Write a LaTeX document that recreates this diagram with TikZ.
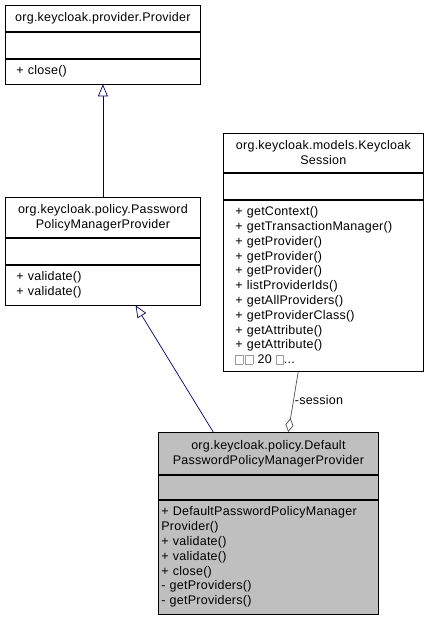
\documentclass[tikz,border=0pt]{standalone}
\usepackage{fontspec}
\setmainfont[LetterSpace=2]{Liberation Sans}
\usetikzlibrary{arrows.meta,calc}

\newcommand{\tofu}{{\setlength{\fboxsep}{0pt}\setlength{\fboxrule}{0.6pt}\color{gray!80}\framebox[8pt][c]{\rule{0pt}{8.5pt}}}}

\tikzset{
  umlpart/.style 2 args={draw=black, line width=0.8pt, rectangle, anchor=north west,
    inner xsep=5pt, inner ysep=0pt, minimum width=#1, minimum height=#2,
    text width=#1-10pt, font=\fontsize{12.5}{14.8}\selectfont},
  umltitle/.style={align=center},
  umlbody/.style 2 args={align=left, inner xsep=#2, text width=#1-2*#2},
  inherit/.style={draw=blue!40!black, line width=0.7pt,
    -{Triangle[open, width=10pt, length=12pt, fill=white]}},
  member/.style={draw=black!70, line width=0.7pt,
    {Diamond[open, width=8pt, length=14pt, fill=white]}-},
}

\begin{document}
\begin{tikzpicture}[x=1pt, y=-1pt]
  \useasboundingbox (0,0) rectangle (429,619);

  % org.keycloak.provider.Provider
  \node[umlpart={195pt}{26pt}, umltitle] (prov title) at (5,5) {org.keycloak.provider.Provider};
  \node[umlpart={195pt}{26pt}] (prov attr) at (prov title.south west) {};
  \node[umlpart={195pt}{25pt}, umlbody={195pt}{11pt}] (prov meth) at (prov attr.south west) {+ close()};

  % org.keycloak.policy.PasswordPolicyManagerProvider
  \node[umlpart={195pt}{40pt}, umltitle] (ppmp title) at (5,197) {org.keycloak.policy.Password\\PolicyManagerProvider};
  \node[umlpart={195pt}{26pt}] (ppmp attr) at (ppmp title.south west) {};
  \node[umlpart={195pt}{40pt}, umlbody={195pt}{11pt}] (ppmp meth) at (ppmp attr.south west) {+ validate()\\+ validate()};

  % org.keycloak.models.KeycloakSession
  \node[umlpart={200pt}{39pt}, umltitle] (sess title) at (223,133) {org.keycloak.models.Keycloak\\Session};
  \node[umlpart={200pt}{26pt}] (sess attr) at (sess title.south west) {};
  \node[umlpart={200pt}{171pt}, umlbody={200pt}{12pt}] (sess meth) at (sess attr.south west)
    {+ getContext()\\+ getTransactionManager()\\+ getProvider()\\+ getProvider()\\+ getProvider()\\%
     + listProviderIds()\\+ getAllProviders()\\+ getProviderClass()\\+ getAttribute()\\+ getAttribute()\\%
     \tofu\,\tofu\ 20 \tofu...};

  % org.keycloak.policy.DefaultPasswordPolicyManagerProvider
  \node[umlpart={220pt}{42pt}, umltitle, fill=black!25] (dppmp title) at (158,432) {org.keycloak.policy.Default\\PasswordPolicyManagerProvider};
  \node[umlpart={220pt}{24pt}, fill=black!25] (dppmp attr) at (dppmp title.south west) {};
  \node[umlpart={220pt}{114pt}, umlbody={220pt}{3pt}, fill=black!25] (dppmp meth) at (dppmp attr.south west)
    {+ DefaultPasswordPolicyManager\\Provider()\\+ validate()\\+ validate()\\+ close()\\- getProviders()\\- getProviders()};

  % connectors
  \draw[inherit] (ppmp title.north) -- (prov meth.south);
  \draw[inherit] ($(dppmp title.north west)!0.25!(dppmp title.north east)$)
    -- ($(ppmp meth.south west)!0.667!(ppmp meth.south east)$);
  \draw[member] ($(dppmp title.north west)!0.59!(dppmp title.north east)$)
    -- node[pos=0.52, anchor=west, inner sep=1pt, font=\fontsize{12.5}{14}\selectfont] {-session}
    ($(sess meth.south west)!0.375!(sess meth.south east)$);
\end{tikzpicture}
\end{document}
